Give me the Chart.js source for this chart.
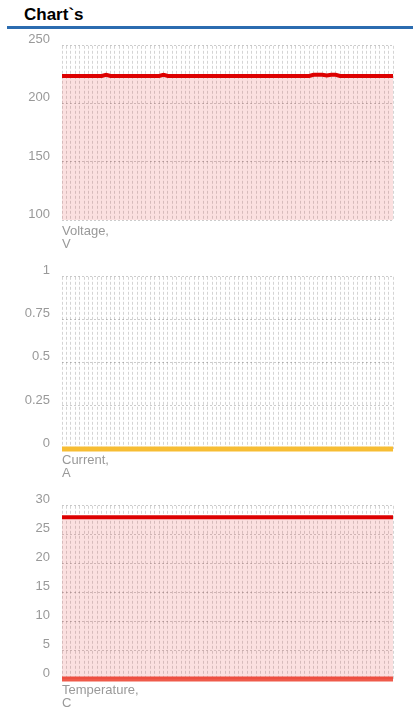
<!DOCTYPE html>
<html>
<head>
<meta charset="utf-8">
<script src="https://cdn.jsdelivr.net/npm/chart.js@4/dist/chart.umd.min.js"></script>
<style>
  body { margin: 0; background: #fff; font-family: Arial, "Liberation Sans", sans-serif; }
  h1 { position: absolute; left: 24px; top: 5px; margin: 0; font-size: 17px; font-weight: bold; color: #000; }
  .rule { position: absolute; left: 7px; top: 26px; width: 406px; height: 3px; background: #2b6cb0; }
  .box { position: absolute; left: 0; width: 415px; }
</style>
</head>
<body>
<h1>Chart`s</h1>
<div class="rule"></div>
<div class="box" style="top:26px;height:225px"><canvas id="voltage"></canvas></div>
<div class="box" style="top:257px;height:223px"><canvas id="current"></canvas></div>
<div class="box" style="top:486px;height:224px"><canvas id="temperature"></canvas></div>

<script>
// readings, one per sample
const samples = ['1','2','3','4','5','6','7','8','9','10','11','12','13','14','15','16','17','18','19','20',
  '21','22','23','24','25','26','27','28','29','30','31','32','33','34','35','36','37','38','39','40',
  '41','42','43','44','45','46','47','48','49','50','51','52','53','54','55','56','57','58','59','60',
  '61','62','63','64','65','66','67','68','69','70','71','72','73','74','75','76']

const voltage = [224,224,224,224,224,224,224,224,224,224,225,224,224,224,224,224,224,224,224,224,
  224,224,224,225,224,224,224,224,224,224,224,224,224,224,224,224,224,224,224,224,
  224,224,224,224,224,224,224,224,224,224,224,224,224,224,224,224,224,225,225,225,
  224.5,225,225,224,224,224,224,224,224,224,224,224,224,224,224,224]

const current = [0,0,0,0,0,0,0,0,0,0,0,0,0,0,0,0,0,0,0,0,
  0,0,0,0,0,0,0,0,0,0,0,0,0,0,0,0,0,0,0,0,
  0,0,0,0,0,0,0,0,0,0,0,0,0,0,0,0,0,0,0,0,
  0,0,0,0,0,0,0,0,0,0,0,0,0,0,0,0]

const temperature = [28,28,28,28,28,28,28,28,28,28,28,28,28,28,28,28,28,28,28,28,
  28,28,28,28,28,28,28,28,28,28,28,28,28,28,28,28,28,28,28,28,
  28,28,28,28,28,28,28,28,28,28,28,28,28,28,28,28,28,28,28,28,
  28,28,28,28,28,28,28,28,28,28,28,28,28,28,28,28]

const temperature2 = [0,0,0,0,0,0,0,0,0,0,0,0,0,0,0,0,0,0,0,0,
  0,0,0,0,0,0,0,0,0,0,0,0,0,0,0,0,0,0,0,0,
  0,0,0,0,0,0,0,0,0,0,0,0,0,0,0,0,0,0,0,0,
  0,0,0,0,0,0,0,0,0,0,0,0,0,0,0,0]

const voltageTicks = [100, 150, 200, 250]
const currentTicks = [0, 0.25, 0.5, 0.75, 1]
const temperatureTicks = [0, 5, 10, 15, 20, 25, 30]

const grey = '#999'
const font = { family: 'Arial, "Liberation Sans", sans-serif', size: 13 }
const titleFont = { family: 'Arial, "Liberation Sans", sans-serif', size: 13, lineHeight: 1 }

function makeOptions (title, min, max, ticks, pad) {
  return {
    responsive: true,
    maintainAspectRatio: false,
    animation: false,
    layout: { padding: { top: pad, right: 22, left: 0, bottom: 0 } },
    plugins: { legend: { display: false }, tooltip: { enabled: false } },
    elements: { point: { radius: 0 }, line: { tension: 0 } },
    scales: {
      x: {
        grid: { display: true, color: 'rgba(0,0,0,0.17)', lineWidth: 1, drawTicks: false },
        border: { display: false, dash: [3, 2] },
        ticks: { display: false },
        title: { display: true, text: title, align: 'start', color: grey, font: titleFont, padding: { top: 5, bottom: 0 } }
      },
      y: {
        min: min,
        max: max,
        afterBuildTicks: (scale) => { scale.ticks = ticks.map(v => ({ value: v })) },
        afterFit: (scale) => { scale.width = 62 },
        grid: { color: 'rgba(0,0,0,0.2)', lineWidth: 1, drawTicks: false },
        border: { display: false, dash: [2, 2] },
        ticks: { color: grey, font: font, padding: 12, labelOffset: -6, callback: (v) => String(v) }
      }
    }
  }
}

new Chart(document.getElementById('voltage'), {
  type: 'line',
  data: {
    labels: samples,
    datasets: [{
      data: voltage,
      borderColor: '#dd0000',
      borderWidth: 4,
      backgroundColor: 'rgba(221,0,0,0.12)',
      fill: 'start'
    }]
  },
  options: makeOptions(['Voltage,', 'V'], 100, 250, voltageTicks, 14)
})

new Chart(document.getElementById('current'), {
  type: 'line',
  data: {
    labels: samples,
    datasets: [{
      data: current,
      borderColor: '#f7bd33',
      borderWidth: 5,
      clip: 6,
      fill: false
    }]
  },
  options: makeOptions(['Current,', 'A'], 0, 1, currentTicks, 14)
})

new Chart(document.getElementById('temperature'), {
  type: 'line',
  data: {
    labels: samples,
    datasets: [{
      data: temperature,
      borderColor: '#dd0000',
      borderWidth: 4,
      backgroundColor: 'rgba(221,0,0,0.12)',
      fill: 'start'
    }, {
      data: temperature2,
      borderColor: '#ef5a4a',
      borderWidth: 5,
      clip: 6,
      fill: false
    }]
  },
  options: makeOptions(['Temperature,', 'C'], 0, 30, temperatureTicks, 14)
})
</script>
</body>
</html>
